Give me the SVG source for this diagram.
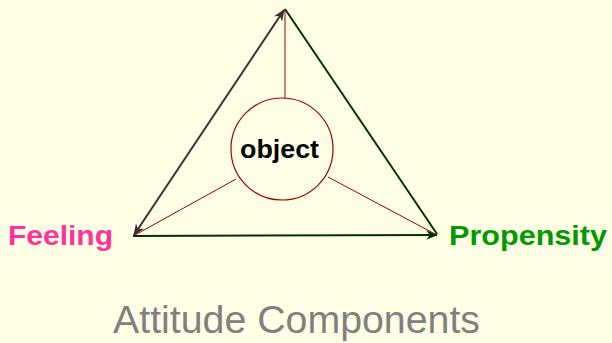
<svg xmlns="http://www.w3.org/2000/svg" width="612" height="343" viewBox="0 0 612 343">
<style>
.gray{stroke:#333333;stroke-width:2;fill:none}
.green{stroke:#003300;stroke-width:2;fill:none}
.red{stroke:#990000;stroke-width:1;fill:none}
.lbl{font-family:"Liberation Sans",Arial,sans-serif;font-weight:bold}
</style>
<defs>
<marker id="ahG" viewBox="0 0 10 10" refX="9" refY="5" markerWidth="6" markerHeight="6" orient="auto-start-reverse" markerUnits="strokeWidth">
<path d="M0,1 L10,5 L0,9 L3,5 Z" fill="#333333"/>
</marker>
<marker id="ahD" viewBox="0 0 10 10" refX="9" refY="5" markerWidth="6" markerHeight="6" orient="auto" markerUnits="strokeWidth">
<path d="M0,1 L10,5 L0,9 L3,5 Z" fill="#003300"/>
</marker>
</defs>
<rect width="612" height="343" fill="#FFFFE6"/>
<g id="connectors">
<line class="gray" x1="284" y1="10" x2="134" y2="235" marker-start="url(#ahG)" marker-end="url(#ahG)"/>
<line class="green" x1="285" y1="9" x2="437" y2="234"/>
<line class="green" x1="133" y1="236" x2="437" y2="235" marker-end="url(#ahD)"/>
<line class="red" x1="285" y1="100" x2="285" y2="10"/>
<line class="red" x1="236" y1="179" x2="135" y2="235"/>
<line class="red" x1="328" y1="177" x2="435" y2="234"/>
</g>
<g id="object">
<circle cx="282" cy="149" r="51" fill="#FFFFE6" stroke="#990000" stroke-width="1.2"/>
<text class="lbl" x="240" y="158" font-size="25" fill="#000000" textLength="79" lengthAdjust="spacingAndGlyphs">object</text>
</g>
<g id="feeling">
<text class="lbl" x="8" y="245" font-size="27" fill="#FF3399" textLength="105" lengthAdjust="spacingAndGlyphs">Feeling</text>
</g>
<g id="propensity">
<text class="lbl" x="449" y="245" font-size="27" fill="#009900" textLength="158" lengthAdjust="spacingAndGlyphs">Propensity</text>
</g>
<g id="title">
<text x="113" y="333" font-family="Liberation Sans,Arial,sans-serif" font-size="38" fill="#808080" textLength="367" lengthAdjust="spacingAndGlyphs">Attitude Components</text>
</g>
</svg>
